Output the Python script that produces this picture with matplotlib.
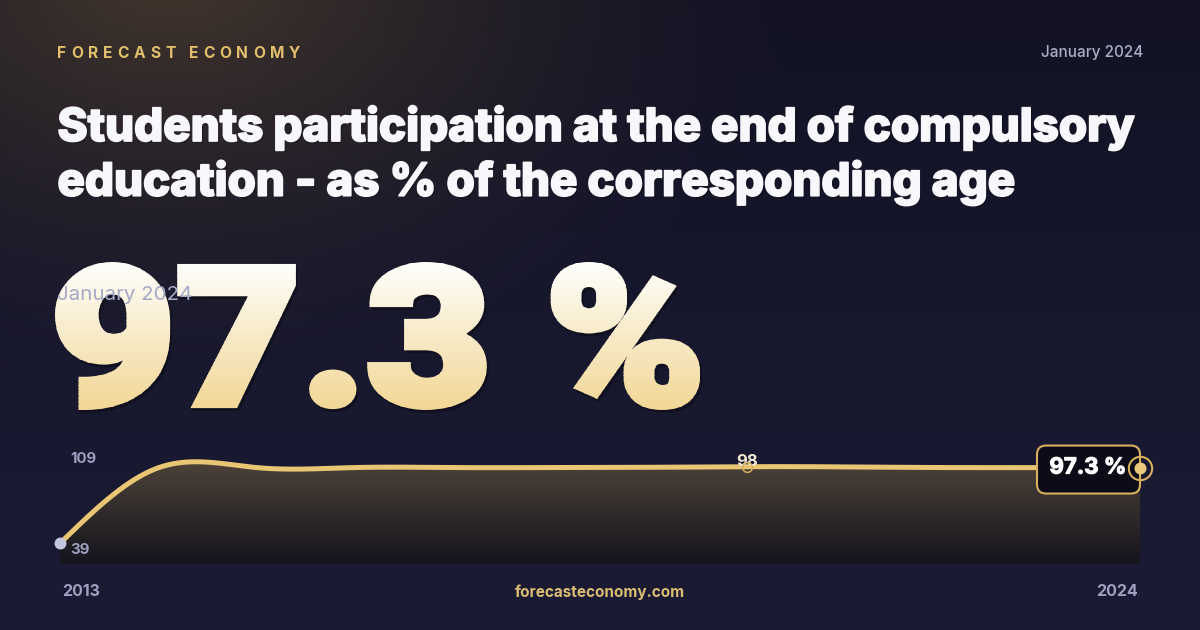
import numpy as np
import matplotlib
matplotlib.use('Agg')
import matplotlib.pyplot as plt
import matplotlib.patheffects as pe
from matplotlib.textpath import TextPath
from matplotlib.patches import PathPatch, Polygon, FancyBboxPatch, Rectangle
from matplotlib.font_manager import FontProperties, findfont, get_font
from matplotlib.transforms import Affine2D
from matplotlib.colors import to_rgb

# data
years = [2013, 2014, 2015, 2016, 2017, 2018, 2019, 2020, 2021, 2022, 2023, 2024]
values = [39.0, 97.1, 97.3, 97.3, 97.3, 97.3, 97.5, 98.0, 97.8, 97.3, 97.3, 97.3]
axis_labels = [109, 39]
note_year, note_value = 2020, 98
brand = 'FORECAST ECONOMY'
date_label = 'January 2024'
title_lines = ['Students participation at the end of compulsory',
               'education - as % of the corresponding age']
headline = '97.3 %'
end_label = '97.3 %'
site = 'forecasteconomy.com'

GOLD = '#e9c674'
GOLD_DK = '#d6b05e'
GREY = '#9c9fbd'
FONT = 'Inter'

W, H = 1200, 630
fig = plt.figure(figsize=(12, 6.3), dpi=100)
bg = fig.add_axes([0, 0, 1, 1])
bg.axis('off')

# background: navy with a warm glow top-left
yy, xx = np.mgrid[0:H, 0:W]
t = (yy / H)[..., None]
base = np.array([19, 19, 37]) * (1 - t) + np.array([27, 27, 53]) * t
d = np.sqrt(((xx - 170) / 640.0) ** 2 + ((yy + 30) / 430.0) ** 2)
g = (np.clip(1 - d, 0, 1) ** 1.5)[..., None]
img = base * (1 - g) + np.array([68, 55, 44]) * g
bg.imshow(img / 255, extent=(0, W, H, 0), aspect='auto', zorder=0)
bg.set_xlim(0, W)
bg.set_ylim(H, 0)


def tracked(ax, x, y, s, size, color, span, weight='bold'):
    fp = FontProperties(family=FONT, weight=weight, size=size)
    font = get_font(findfont(fp))
    font.set_size(size, 100)
    advs = [font.load_char(ord(c)).linearHoriAdvance / 65536 for c in s]
    track = (span - sum(advs[:-1]) - advs[-1] * 0.8) / (len(s) - 1)
    for c, a in zip(s, advs):
        ax.text(x, y, c, fontproperties=fp, color=color, va='center', ha='left', zorder=5)
        x += a + track


tracked(bg, 57, 53, brand, 11.2, '#e2bf6e', 241)
bg.text(1143, 53, date_label, ha='right', va='center', fontsize=11, fontweight='medium',
        family=FONT, color='#acaec8', zorder=5)

heavy = [pe.withSimplePatchShadow(offset=(1.2, -1.2), shadow_rgbFace='black', alpha=0.35),
         pe.withStroke(linewidth=1.3, foreground='#f8f8fc')]
for i, line in enumerate(title_lines):
    bg.text(57.5, 141 + 54.7 * i, line, ha='left', va='baseline', fontsize=32.9,
            fontweight='heavy', family=FONT, color='#f8f8fc', zorder=5, path_effects=heavy)

# headline number: emboldened outline, vertical gradient drawn in thin bands
tp = TextPath((0, 0), headline, size=100, prop=FontProperties(family='Roboto', weight='black'))
ext = tp.get_extents()
sw = 8.0  # stroke in px
x0, x1, ytop, ybot = 55 + sw / 2, 700 - sw / 2, 262 + sw / 2, 410 - sw / 2
path = (Affine2D().translate(-ext.x0, -ext.y0)
        .scale((x1 - x0) / ext.width, -(ybot - ytop) / ext.height)
        .translate(x0, ybot).transform_path(tp))
bg.add_patch(PathPatch(Affine2D().translate(2, 3).transform_path(path), fc='black', ec='black',
                       lw=sw * 0.72, alpha=0.3, zorder=2))
c_top, c_bot = np.array(to_rgb('#fefdf9')), np.array(to_rgb('#f2d797'))
nb = 60
edges = np.linspace(ytop - sw, ybot + sw, nb + 1)
for i in range(nb):
    f = (edges[i] + edges[i + 1]) / 2
    f = np.clip((f - ytop) / (ybot - ytop), 0, 1)
    col = c_top * (1 - f) + c_bot * f
    band = Rectangle((0, edges[i]), W, edges[i + 1] - edges[i] + 0.6, transform=bg.transData)
    pp = PathPatch(path, fc=col, ec=col, lw=sw * 0.72, zorder=3)
    bg.add_patch(pp)
    pp.set_clip_path(band)

bg.text(57, 295, date_label, ha='left', va='center', fontsize=14.8, family=FONT,
        color='#a6a9c8', zorder=6)

# chart
ylo, yhi = 23.1, 118.5
ax = fig.add_axes([60 / W, 1 - 564 / H, 1080 / W, (564 - 440) / H])
ax.set_xlim(years[0], years[-1])
ax.set_ylim(ylo, yhi)
ax.axis('off')
ax.patch.set_alpha(0)


def natural_spline(x, y, n=1000):
    x = np.asarray(x, float)
    y = np.asarray(y, float)
    k = len(x)
    h = np.diff(x)
    A = np.zeros((k, k))
    r = np.zeros(k)
    A[0, 0] = A[-1, -1] = 1
    for i in range(1, k - 1):
        A[i, i - 1], A[i, i], A[i, i + 1] = h[i - 1], 2 * (h[i - 1] + h[i]), h[i]
        r[i] = 6 * ((y[i + 1] - y[i]) / h[i] - (y[i] - y[i - 1]) / h[i - 1])
    M = np.linalg.solve(A, r)
    xs = np.linspace(x[0], x[-1], n)
    idx = np.clip(np.searchsorted(x, xs) - 1, 0, k - 2)
    hh = x[idx + 1] - x[idx]
    a = (x[idx + 1] - xs) / hh
    b = (xs - x[idx]) / hh
    ys = a * y[idx] + b * y[idx + 1] + ((a ** 3 - a) * M[idx] + (b ** 3 - b) * M[idx + 1]) * hh ** 2 / 6
    return xs, ys


xs, ys = natural_spline(years, values)
poly = Polygon(np.column_stack([np.r_[xs, xs[-1], xs[0]], np.r_[ys, ylo, ylo]]),
               closed=True, fc='none', ec='none')
ax.add_patch(poly)
gv = np.linspace(0, 1, 256)[:, None, None]
f_top, f_bot = np.array(to_rgb('#4c4238')), np.array(to_rgb('#15141d'))
fill = f_top * (1 - gv) + f_bot * gv
fim = ax.imshow(fill, extent=(years[0], years[-1], ylo, ys.max()), aspect='auto', zorder=1)
fim.set_clip_path(poly)
ax.set_xlim(years[0], years[-1])
ax.set_ylim(ylo, yhi)

ax.plot(xs, ys, color=GOLD, lw=3.6, zorder=3, solid_capstyle='round', clip_on=False)
ax.plot(years[0], values[0], 'o', ms=7.6, color='#c4c7de', zorder=4, clip_on=False)

# end label box tied to last point
px, py = bg.transData.inverted().transform(ax.transData.transform((years[-1], values[-1])))
box = FancyBboxPatch((px - 103, py - 22), 103, 48, boxstyle='round,pad=0,rounding_size=9',
                     fc='#0b0c17', ec=GOLD_DK, lw=1.5, transform=bg.transData,
                     zorder=5, clip_on=False)
ax.add_patch(box)
ax.text(px - 52, py, end_label, transform=bg.transData, ha='center', va='center',
        fontsize=16, fontweight='bold', family=FONT, color='white', zorder=7, clip_on=False,
        path_effects=[pe.withStroke(linewidth=0.8, foreground='white')])
ax.plot(years[-1], values[-1], 'o', ms=16.8, mfc='none', mec=GOLD_DK, mew=1.5,
        zorder=8, clip_on=False)
ax.plot(years[-1], values[-1], 'o', ms=8.6, mfc='#ecca7c', mec='none', zorder=8, clip_on=False)

ax.annotate(str(note_value), xy=(note_year, note_value), xytext=(0, 4), textcoords='offset points',
            ha='center', va='center', fontsize=12, fontweight='bold', family=FONT,
            color='#f1e9d6', zorder=6)
ax.plot(note_year, note_value, 'o', ms=7, mfc='none', mec=GOLD_DK, mew=1.1, zorder=7)

for v in axis_labels:
    ax.annotate(str(v), xy=(years[0], v), xytext=(7.2, 0), textcoords='offset points',
                ha='left', va='top', fontsize=10.8, fontweight='bold', family=FONT,
                color=GREY, zorder=6, annotation_clip=False)

ax.annotate(str(years[0]), xy=(years[0], ylo), xytext=(1.5, -19.5), textcoords='offset points',
            ha='left', va='center', fontsize=11.5, fontweight='bold', family=FONT,
            color='#9ea1bf', annotation_clip=False)
ax.annotate(str(years[-1]), xy=(years[-1], ylo), xytext=(-1.5, -19.5), textcoords='offset points',
            ha='right', va='center', fontsize=11.5, fontweight='bold', family=FONT,
            color='#9ea1bf', annotation_clip=False)

bg.text(600, 592, site, ha='center', va='center', fontsize=11, fontweight='bold',
        family=FONT, color='#dbbd72', zorder=5)

fig.savefig('out.png', dpi=100)
